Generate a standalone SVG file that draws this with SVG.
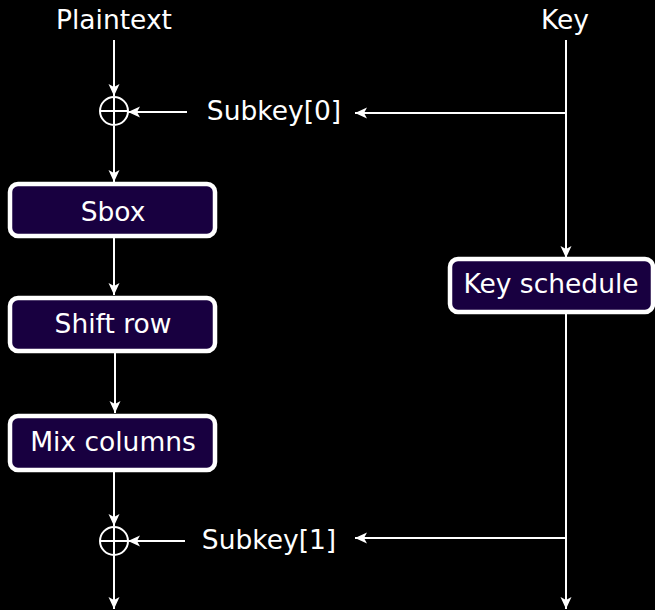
<svg xmlns="http://www.w3.org/2000/svg" width="655" height="610" viewBox="0 0 655 610">
  <style>
    .bg { fill: #000000; }
    .lbl { font-family: "DejaVu Sans", sans-serif; font-size: 26.5px; fill: #ffffff; text-anchor: middle; }
    .box { fill: #180040; stroke: #ffffff; stroke-width: 4.5; }
    .wire { stroke: #ffffff; stroke-width: 2; fill: none; }
    .xor { stroke: #ffffff; stroke-width: 2; fill: none; }
  </style>
  <defs>
    <marker id="arrow" viewBox="-13 -6 14 12" refX="0" refY="0" markerWidth="14" markerHeight="12" markerUnits="userSpaceOnUse" orient="auto">
      <path d="M0,0 L-12,-5.5 L-9,0 L-12,5.5 Z" fill="#ffffff"/>
    </marker>
  </defs>
  <rect class="bg" x="0" y="0" width="655" height="610"/>

  <!-- connectors -->
  <g id="connectors">
    <line class="wire" x1="114" y1="40" x2="114" y2="96" marker-end="url(#arrow)"/>
    <line class="wire" x1="187" y1="112" x2="128" y2="112" marker-end="url(#arrow)"/>
    <line class="wire" x1="566" y1="113" x2="355" y2="113" marker-end="url(#arrow)"/>
    <line class="wire" x1="114" y1="126" x2="114" y2="182" marker-end="url(#arrow)"/>
    <line class="wire" x1="114" y1="238" x2="114" y2="295" marker-end="url(#arrow)"/>
    <line class="wire" x1="115" y1="353" x2="115" y2="413" marker-end="url(#arrow)"/>
    <line class="wire" x1="114" y1="472" x2="114" y2="526" marker-end="url(#arrow)"/>
    <line class="wire" x1="185" y1="541" x2="128" y2="541" marker-end="url(#arrow)"/>
    <line class="wire" x1="566" y1="538" x2="355" y2="538" marker-end="url(#arrow)"/>
    <line class="wire" x1="114" y1="555" x2="114" y2="609" marker-end="url(#arrow)"/>
    <line class="wire" x1="566" y1="40" x2="566" y2="258" marker-end="url(#arrow)"/>
    <line class="wire" x1="566" y1="313" x2="566" y2="609" marker-end="url(#arrow)"/>
  </g>

  <!-- inputs -->
  <g id="plaintext"><text class="lbl" x="114" y="29">Plaintext</text></g>
  <g id="key"><text class="lbl" x="565" y="29">Key</text></g>

  <!-- round key labels -->
  <g id="subkey0"><text class="lbl" x="274" y="120">Subkey[0]</text></g>
  <g id="subkey1"><text class="lbl" x="269" y="549">Subkey[1]</text></g>

  <!-- XOR operators -->
  <g id="xor0">
    <circle class="xor" cx="114" cy="111" r="14"/>
    <line class="xor" x1="100" y1="111" x2="128" y2="111"/>
    <line class="xor" x1="114" y1="97" x2="114" y2="125"/>
  </g>
  <g id="xor1">
    <circle class="xor" cx="114" cy="541" r="14"/>
    <line class="xor" x1="100" y1="541" x2="128" y2="541"/>
    <line class="xor" x1="114" y1="527" x2="114" y2="555"/>
  </g>

  <!-- round steps -->
  <g id="sbox">
    <rect class="box" x="10" y="184" width="205" height="52" rx="8"/>
    <text class="lbl" x="113" y="221">Sbox</text>
  </g>
  <g id="shiftrow">
    <rect class="box" x="10" y="298" width="205" height="53" rx="8"/>
    <text class="lbl" x="113" y="333">Shift row</text>
  </g>
  <g id="mixcolumns">
    <rect class="box" x="10" y="416" width="205" height="54" rx="8"/>
    <text class="lbl" x="113" y="451">Mix columns</text>
  </g>
  <g id="keyschedule">
    <rect class="box" x="450" y="259" width="203" height="53" rx="8"/>
    <text class="lbl" x="551" y="293">Key schedule</text>
  </g>
</svg>
